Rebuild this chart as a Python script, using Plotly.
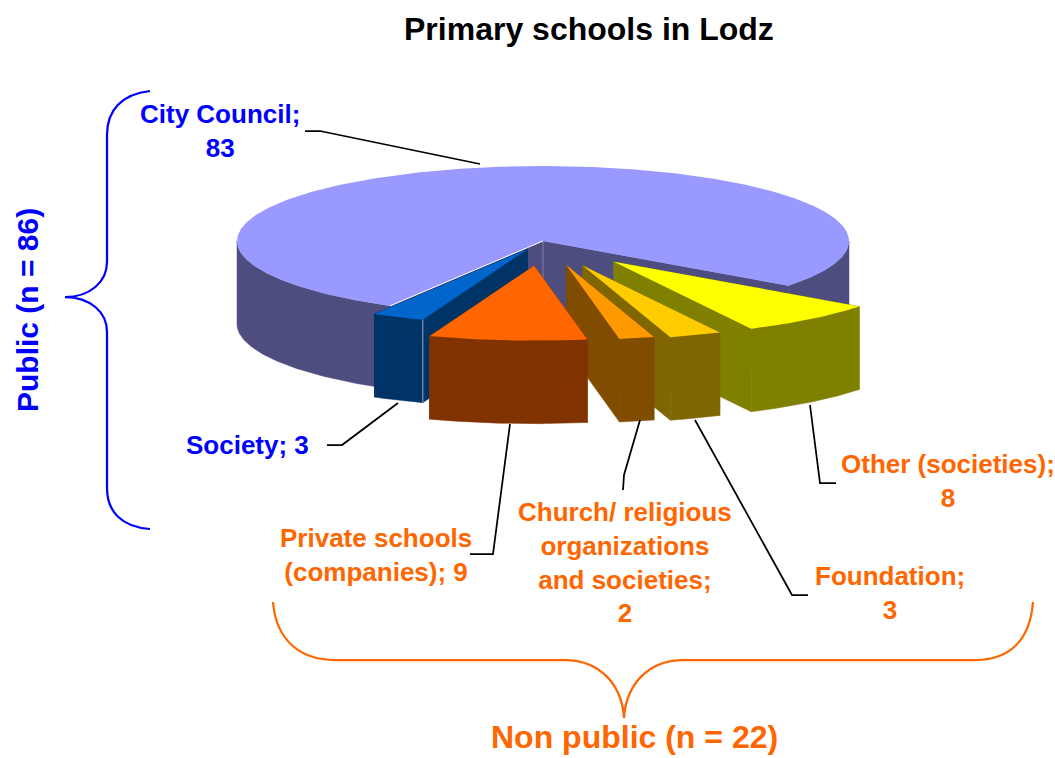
import numpy as np
import plotly.graph_objects as go

# ---- data ----
categories = ["City Council", "Society", "Private schools (companies)",
              "Church/ religious organizations and societies", "Foundation", "Other (societies)"]
values = [83, 3, 9, 2, 3, 8]
title_text = "Primary schools in Lodz"
public_text = "Public (n = 86)"
nonpublic_text = "Non public (n = 22)"

# ---- style / projection ----
top_colors = ["#9999FF", "#0066CC", "#FF6600", "#FF9900", "#FFCC00", "#FFFF00"]
wall_colors = ["#4D4D80", "#003366", "#803300", "#804D00", "#806600", "#808000"]
explode = [0, 0.12, 0.33, 0.33, 0.35, 0.36]
CX, CY, RX, RY, DEPTH = 543, 241, 306, 75, 83
FIRST_EDGE = 240.0   # angle where "Society" begins (counter-clockwise order on screen)
BLUE, ORANGE = "#0000FF", "#FF6600"
FONT = "Liberation Sans, Arial, sans-serif"

total = sum(values)
spans = [v / total * 360 for v in values]
# slices 1..5 run on from FIRST_EDGE; slice 0 takes the rest
edges = {}
a = FIRST_EDGE
for i in range(1, len(values)):
    edges[i] = (a, a + spans[i])
    a += spans[i]
edges[0] = (a, a + spans[0])


def pt(deg, ox=0.0, oy=0.0):
    t = np.radians(deg)
    return CX + ox + RX * np.cos(t), CY + oy - RY * np.sin(t)


def arc(d0, d1, ox=0.0, oy=0.0):
    n = max(2, int(abs(d1 - d0) * 2))
    ds = np.linspace(d0, d1, n)
    xs, ys = pt(ds, ox, oy)
    return list(xs), list(ys)


def offset(i):
    d0, d1 = edges[i]
    mid = np.radians((d0 + d1) / 2)
    return explode[i] * RX * np.cos(mid), -explode[i] * RY * np.sin(mid)


fig = go.Figure()


def poly(xs, ys, color, edge=0.0):
    fig.add_trace(go.Scatter(x=list(xs) + [xs[0]], y=list(ys) + [ys[0]], mode="lines",
                             fill="toself", fillcolor=color, line=dict(width=edge, color=color),
                             hoverinfo="skip", showlegend=False))


def seam(xs, ys, color, width=1):
    fig.add_trace(go.Scatter(x=list(xs), y=list(ys), mode="lines", line=dict(width=width, color=color),
                             hoverinfo="skip", showlegend=False))


def draw_slice(i):
    d0, d1 = edges[i]
    ox, oy = offset(i)
    ax, ay = CX + ox, CY + oy
    for end in (d0, d1):
        ex, ey = pt(end, ox, oy)
        poly([ax, ex, ex, ax], [ay, ey, ey + DEPTH, ay + DEPTH], wall_colors[i], 0.5)
    # outer wall: only the parts of the rim on the near side (180..360 degrees)
    for lo, hi in ((180, 360), (540, 720)):
        s, e = max(d0, lo), min(d1, hi)
        if s < e:
            xs, ys = arc(s, e, ox, oy)
            poly(xs + xs[::-1], ys + [y + DEPTH for y in ys[::-1]], wall_colors[i], 0.5)
    xs, ys = arc(d0, d1, ox, oy)
    poly([ax] + xs, [ay] + ys, top_colors[i])


def draw_city():
    draw_slice(0)
    # pale seam down the centre, pale highlight along the left cut
    seam([CX, CX], [CY, CY + DEPTH], "#8080A8")
    ex, ey = pt(edges[0][1])
    seam([ex, CX], [ey, CY], "#FFFFFF")


def draw_society():
    draw_slice(1)
    ox, oy = offset(1)
    ex, ey = pt(edges[1][1], ox, oy)
    seam([ex, ex], [ey, ey + DEPTH], "#9AA8C0")


draw_city()
for i in (5, 4, 3):
    draw_slice(i)
draw_society()
draw_slice(2)

# ---- leader lines ----
leaders = [
    [(305, 131), (320, 131), (480, 164)],
    [(327, 445), (342, 445), (398, 403)],
    [(470, 554), (493, 554), (510, 424)],
    [(623, 490), (624, 475), (640, 420)],
    [(808, 595), (792, 595), (695, 420)],
    [(836, 483), (820, 483), (810, 405)],
]
shapes = []
for L in leaders:
    path = "M" + " L".join(f"{x},{y}" for x, y in L)
    shapes.append(dict(type="path", path=path, xref="x", yref="y", line=dict(color="black", width=1.75)))

# ---- braces ----
shapes.append(dict(type="path", xref="x", yref="y", line=dict(color=BLUE, width=2.25),
                   path="M150,91 C122,94 107,110 107,135 L107,262 C107,282 90,297 65,297 "
                        "C90,297 107,312 107,332 L107,488 C107,512 122,527 150,529"))
shapes.append(dict(type="path", xref="x", yref="y", line=dict(color=ORANGE, width=2.25),
                   path="M273,602 C276,640 300,660 335,660 L565,660 C600,660 622,685 624,718 "
                        "C626,685 648,660 683,660 L975,660 C1010,660 1030,640 1033,602"))

# ---- labels ----
labels = [
    ("City Council;<br>83", 219.5, 131, BLUE),
    ("Society; 3", 247.5, 445, BLUE),
    ("Private schools<br>(companies); 9", 376, 555, ORANGE),
    ("Church/ religious<br>organizations<br>and societies;<br>2", 625, 562, ORANGE),
    ("Foundation;<br>3", 890, 593, ORANGE),
    ("Other (societies);<br>8", 948, 481, ORANGE),
]
ann = []
for text, x, y, col in labels:
    ann.append(dict(text=f"<b>{text}</b>", x=x, y=y, xref="x", yref="y", showarrow=False, align="center",
                    font=dict(family=FONT, size=26, color=col)))
ann.append(dict(text=f"<b>{title_text}</b>", x=588.5, y=29, xref="x", yref="y", showarrow=False,
                font=dict(family=FONT, size=32, color="black")))
ann.append(dict(text=f"<b>{public_text}</b>", x=27, y=310, xref="x", yref="y", showarrow=False, textangle=-90,
                font=dict(family=FONT, size=30, color=BLUE)))
ann.append(dict(text=f"<b>{nonpublic_text}</b>", x=634, y=737, xref="x", yref="y", showarrow=False,
                font=dict(family=FONT, size=32, color=ORANGE)))

fig.update_layout(
    width=1055, height=758, margin=dict(l=0, r=0, t=0, b=0),
    paper_bgcolor="white", plot_bgcolor="white", showlegend=False,
    xaxis=dict(range=[0, 1055], visible=False, fixedrange=True),
    yaxis=dict(range=[758, 0], visible=False, fixedrange=True),
    shapes=shapes, annotations=ann,
)
fig.write_html("out.html", config=dict(displayModeBar=False),
               post_script="document.body.style.margin='0';document.body.style.overflow='hidden';")
